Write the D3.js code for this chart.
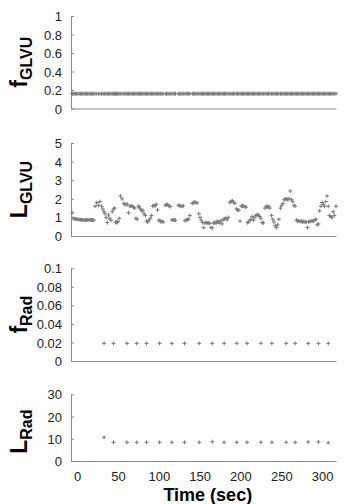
<!DOCTYPE html>
<html>
<head>
<meta charset="utf-8">
<script src="https://cdn.jsdelivr.net/npm/d3@7"></script>
<style>
    body { margin: 0; background: #fff; }
    svg text { font-family: "Liberation Sans", Arial, Helvetica, sans-serif; }
    .tick text { font-size: 13px; fill: #222; }
    .domain, .tick line { stroke: #8a8a8a; }
    .pt { stroke: #7a7a7a; stroke-width: 1; fill: none; }
    .ylab { font-weight: bold; fill: #000; }
</style>
</head>
<body>
<svg id="chart" width="360" height="504"></svg>
<script>
// sample times (sec) for the GLVU series
const glvuTime = [
    -6, -5, -3.5, -2, -0.5, 1, 2.5, 4, 5.5, 7, 8.5, 10, 11.5, 13, 14.5, 16, 17.5, 19, 20.5,
    22, 24, 26, 28, 30, 31.5, 33, 34, 35.5, 37, 38.5, 40, 41.5, 43, 44.5, 46, 47, 48, 49, 50, 51.5,
    53, 55, 57, 58.5, 60, 61.5, 63, 64.5, 66, 67.5, 69, 70.5, 72, 73.5, 75, 76, 77.5, 79, 80.5, 82,
    83.5, 85, 86.5, 88, 89.5, 91, 92.5, 94, 95.5, 97, 98.5, 100, 101.5,
    102.5, 104, 105.5, 108, 109.5, 111, 112.5, 114, 116, 117.5, 119, 120.5, 124, 125.5, 127, 128.5,
    130, 132, 133.5, 135, 136.5, 138, 141, 142.5, 144, 145.5, 147, 149, 150.5, 152,
    153.5, 155, 156.5, 158, 159.5, 161, 162.5, 164, 165.5, 167, 168.5, 170, 171.5, 173, 174.5, 176,
    177.5, 179, 180.5, 182, 183.5, 185,
    187, 188.5, 190, 191.5, 193, 195, 196.5, 198, 199.5, 201, 202.5, 204, 205.5, 207, 208.5, 210,
    211.5, 213, 214.5, 216,
    217.5, 219, 220.5, 222, 223.5, 225, 226.5, 228, 230, 231.5, 233, 234.5, 236, 238, 239.5, 241,
    242.5, 244, 245.5,
    247, 249, 250.5, 252, 253.5, 255, 256.5, 258, 259.5, 261, 262.5, 264, 265.5, 267, 268.5,
    270, 271.5, 273, 274.5, 276, 277.5, 279, 280.5, 282, 283.5, 285, 286.5, 288, 289.5, 291, 292.5,
    294, 295.5,
    297, 298.5, 300, 301.5, 303, 304.5, 306, 307.5, 309, 310.5, 312, 313.5, 315, 317
];

// f_GLVU stays flat through the run
const fGLVU = [
    0.16, 0.16, 0.16, 0.16, 0.16, 0.16, 0.16, 0.16, 0.16, 0.16,
    0.16, 0.16, 0.16, 0.16, 0.16, 0.16, 0.16, 0.16, 0.16, 0.16,
    0.16, 0.16, 0.16, 0.16, 0.16, 0.16, 0.16, 0.16, 0.16, 0.16,
    0.16, 0.16, 0.16, 0.16, 0.16, 0.16, 0.16, 0.16, 0.16, 0.16,
    0.16, 0.16, 0.16, 0.16, 0.16, 0.16, 0.16, 0.16, 0.16, 0.16,
    0.16, 0.16, 0.16, 0.16, 0.16, 0.16, 0.16, 0.16, 0.16, 0.16,
    0.16, 0.16, 0.16, 0.16, 0.16, 0.16, 0.16, 0.16, 0.16, 0.16,
    0.16, 0.16, 0.16, 0.16, 0.16, 0.16, 0.16, 0.16, 0.16, 0.16,
    0.16, 0.16, 0.16, 0.16, 0.16, 0.16, 0.16, 0.16, 0.16, 0.16,
    0.16, 0.16, 0.16, 0.16, 0.16, 0.16, 0.16, 0.16, 0.16, 0.16,
    0.16, 0.16, 0.16, 0.16, 0.16, 0.16, 0.16, 0.16, 0.16, 0.16,
    0.16, 0.16, 0.16, 0.16, 0.16, 0.16, 0.16, 0.16, 0.16, 0.16,
    0.16, 0.16, 0.16, 0.16, 0.16, 0.16, 0.16, 0.16, 0.16, 0.16,
    0.16, 0.16, 0.16, 0.16, 0.16, 0.16, 0.16, 0.16, 0.16, 0.16,
    0.16, 0.16, 0.16, 0.16, 0.16, 0.16, 0.16, 0.16, 0.16, 0.16,
    0.16, 0.16, 0.16, 0.16, 0.16, 0.16, 0.16, 0.16, 0.16, 0.16,
    0.16, 0.16, 0.16, 0.16, 0.16, 0.16, 0.16, 0.16, 0.16, 0.16,
    0.16, 0.16, 0.16, 0.16, 0.16, 0.16, 0.16, 0.16, 0.16, 0.16,
    0.16, 0.16, 0.16, 0.16, 0.16, 0.16, 0.16, 0.16, 0.16, 0.16,
    0.16, 0.16, 0.16, 0.16, 0.16, 0.16, 0.16, 0.16, 0.16, 0.16,
    0.16, 0.16, 0.16, 0.16, 0.16, 0.16, 0.16, 0.16, 0.16, 0.16,
    0.16
];

const lGLVU = [
    1.25, 0.95, 0.93, 0.92, 0.9, 0.9, 0.88, 0.87, 0.87, 0.86, 0.86, 0.85, 0.86, 0.87, 0.86, 0.88, 0.86, 0.85, 0.85,
    1.6, 1.8, 1.65, 1.85, 1.6, 1.45, 1.3, 1.2, 1.0, 0.72, 1.13, 0.95, 0.85, 1.3, 1.45, 1.5, 0.75, 0.72, 0.74, 0.78, 0.95,
    2.15, 2.0, 1.75, 1.7, 1.7, 1.7, 1.25, 1.6, 1.62, 1.6, 1.55, 1.5, 0.95, 0.9, 1.6, 1.55, 1.45, 1.35, 1.38, 1.2,
    1.1, 0.8, 0.75, 0.85, 0.95, 1.1, 1.6, 1.65, 1.62, 1.7, 1.4, 0.85, 0.83,
    0.77, 0.78, 0.76, 1.65, 1.7, 1.68, 1.62, 1.58, 0.86, 0.87, 0.86, 0.85, 1.65, 1.63, 1.6, 1.6,
    1.62, 0.83, 0.85, 0.88, 0.9, 1.1, 1.75, 1.8, 1.82, 1.8, 1.78, 1.2, 1.0, 0.85,
    0.72, 0.45, 0.7, 0.72, 0.7, 0.7, 0.68, 0.45, 0.44, 0.7, 0.72, 0.68, 0.8, 0.75, 0.72, 0.82,
    0.65, 0.88, 0.92, 0.95, 0.88, 1.0,
    1.8, 1.85, 1.9, 1.82, 1.75, 1.45, 1.4, 1.38, 0.8, 1.6, 1.62, 1.6, 1.58, 1.55, 0.72, 0.75,
    0.85, 0.9, 1.05, 0.85,
    1.0, 1.1, 1.15, 1.12, 1.05, 0.95, 0.72, 0.7, 1.5, 1.6, 1.55, 1.6, 1.5, 1.1, 0.9, 0.75,
    0.55, 0.45, 0.6,
    0.9, 1.5, 1.65, 1.75, 1.95, 1.98, 2.0, 1.95, 2.0, 2.42, 1.95, 1.85, 1.65, 1.6, 0.85,
    0.82, 0.8, 0.78, 0.8, 0.75, 0.78, 0.76, 0.75, 0.45, 0.76, 0.78, 0.8, 0.8, 0.82, 0.85, 0.9,
    0.6, 0.65,
    1.35, 1.6, 1.8, 1.7, 1.6, 1.85, 2.15, 1.6, 1.1, 1.05, 1.0, 1.3, 1.1, 1.6
];

// radiosity samples are much sparser
const radTime = [33, 44.5, 61, 73, 85, 101, 116, 131.5, 149.5, 165.5,
                 180, 195.5, 208, 225, 238.5, 256, 267, 283, 295.5, 307.5];
const fRad = [0.019, 0.019, 0.019, 0.019, 0.019, 0.019, 0.019, 0.019, 0.019, 0.019,
              0.019, 0.019, 0.019, 0.019, 0.019, 0.019, 0.019, 0.019, 0.019, 0.019];
const lRad = [10.6, 8.4, 8.4, 8.4, 8.4, 8.4, 8.4, 8.4, 8.4, 8.7,
              8.4, 8.4, 8.4, 8.4, 8.4, 8.4, 8.4, 8.6, 8.6, 8.2];

const xTicks = [0, 50, 100, 150, 200, 250, 300];
const fGLVUTicks = [0, 0.2, 0.4, 0.6, 0.8, 1];
const lGLVUTicks = [0, 1, 2, 3, 4, 5];
const fRadTicks = [0, 0.02, 0.04, 0.06, 0.08, 0.1];
const lRadTicks = [0, 10, 20, 30];

// panel layout: top/bottom pixel of each y axis
const panels = [
    {name: 'f', sub: 'GLVU', time: glvuTime, vals: fGLVU, ticks: fGLVUTicks, top: 16, bottom: 108.5},
    {name: 'L', sub: 'GLVU', time: glvuTime, vals: lGLVU, ticks: lGLVUTicks, top: 143, bottom: 236},
    {name: 'f', sub: 'Rad', time: radTime, vals: fRad, ticks: fRadTicks, top: 268.3, bottom: 361},
    {name: 'L', sub: 'Rad', time: radTime, vals: lRad, ticks: lRadTicks, top: 394.3, bottom: 461}
];

const svg = d3.select('#chart');

const xScale = d3.scaleLinear()
    .domain([-7.5, 317])
    .range([71, 336]);

const cross = 'M-2,0H2M0,-2V2';

panels.forEach((p, idx) => {
    let yScale = d3.scaleLinear()
        .domain([p.ticks[0], p.ticks[p.ticks.length - 1]])
        .range([p.bottom, p.top]);

    let g = svg.append('g').attr('class', 'panel-' + idx);

    // y axis, short ticks pointing inward
    let yAxis = d3.axisLeft(yScale)
        .tickValues(p.ticks)
        .tickFormat(d => String(d))
        .tickSizeInner(-3)
        .tickSizeOuter(0)
        .tickPadding(9);
    g.append('g')
        .attr('transform', `translate(${xScale.range()[0]},0)`)
        .call(yAxis)
        .call(s => s.selectAll('text').attr('dy', '0.35em'));

    // x axis line; labels only under the last panel
    let xAxis = d3.axisBottom(xScale)
        .tickValues(xTicks)
        .tickSize(0)
        .tickSizeOuter(0)
        .tickPadding(11);
    let xg = g.append('g')
        .attr('transform', `translate(0,${p.bottom})`)
        .call(xAxis);
    if (idx < panels.length - 1) xg.selectAll('.tick').remove();

    // the samples as small crosses
    let pts = p.time.map((t, i) => ({t: t, v: p.vals[i]})).filter(d => d.v !== undefined);
    g.append('g')
        .selectAll('path')
        .data(pts)
        .join('path')
        .attr('class', 'pt')
        .attr('d', cross)
        .attr('transform', d => `translate(${xScale(d.t)},${yScale(d.v)})`);

    // rotated label with subscript
    let cy = (p.top + p.bottom) / 2 + (idx === 3 ? 4 : 0);
    let lab = svg.append('text')
        .attr('class', 'ylab')
        .attr('transform', `translate(27,${cy}) rotate(-90)`)
        .attr('text-anchor', 'middle');
    lab.append('tspan').attr('font-size', 23).text(p.name);
    lab.append('tspan').attr('font-size', 16).attr('dy', 5).text(p.sub);
});

// x axis title
svg.append('text')
    .attr('x', xScale(160))
    .attr('y', 501)
    .attr('text-anchor', 'middle')
    .attr('font-size', 18)
    .attr('font-weight', 'bold')
    .text('Time (sec)');
</script>
</body>
</html>
